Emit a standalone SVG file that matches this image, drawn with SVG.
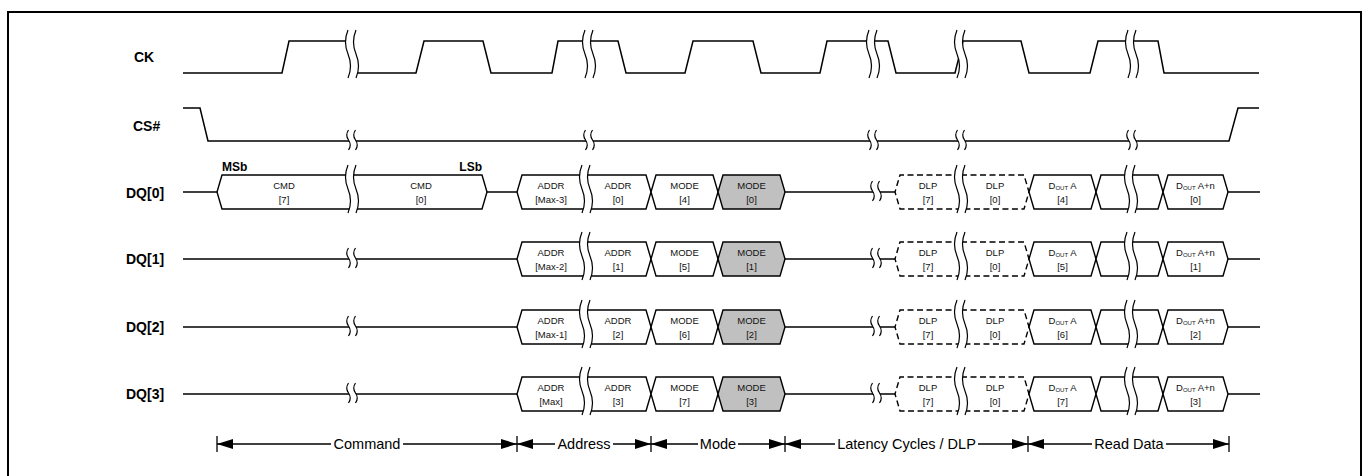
<svg xmlns="http://www.w3.org/2000/svg" width="1369" height="476" viewBox="0 0 1369 476">
<style>
.sig{fill:none;stroke:#000;stroke-width:1.5}
.box{fill:#fff;stroke:#000;stroke-width:1.4}
.grey{fill:#c0c0c0}
.dash{stroke-dasharray:6 3.5}
.lbl{font-family:"Liberation Sans",Arial,sans-serif;font-weight:bold;font-size:14px;fill:#000}
.bit{font-family:"Liberation Sans",Arial,sans-serif;font-weight:bold;font-size:12px;fill:#000}
.t{font-family:"Liberation Sans",Arial,sans-serif;font-size:9.5px;fill:#111;text-anchor:middle}
.sub{font-size:6px}
.ph{font-family:"Liberation Sans",Arial,sans-serif;font-size:14.5px;text-anchor:middle;fill:#000}
.dim{stroke:#000;stroke-width:1.3;fill:none}
.tick{stroke:#000;stroke-width:1.3}
</style>
<defs>
<marker id="ah" markerUnits="userSpaceOnUse" markerWidth="16" markerHeight="10" refX="16" refY="5" orient="auto-start-reverse"><path d="M0,0 L16,5 L0,10 Z" fill="#000"/></marker>
<g id="bT"><path d="M-4,-27 Q-9,-15 -4,-3 Q1,9 -4,21 L4,21 Q9,9 4,-3 Q-1,-15 4,-27 Z" fill="#fff"/><path d="M-4,-27 Q-9,-15 -4,-3 Q1,9 -4,21 M4,-27 Q-1,-15 4,-3 Q9,9 4,21" fill="none" stroke="#000" stroke-width="1.2"/></g>
<g id="bS"><path d="M-3.5,-11 Q-7,-6 -3.5,-1 Q0,4 -3.5,9 L3.5,9 Q7,4 3.5,-1 Q0,-6 3.5,-11 Z" fill="#fff"/><path d="M-3.5,-11 Q-7,-6 -3.5,-1 Q0,4 -3.5,9 M3.5,-11 Q0,-6 3.5,-1 Q7,4 3.5,9" fill="none" stroke="#000" stroke-width="1.2"/></g>
</defs>
<rect x="0" y="0" width="1369" height="476" fill="#fff"/>
<rect x="8" y="12" width="1353" height="470" fill="none" stroke="#000" stroke-width="2"/>

<g id="labels">
<text class="lbl" x="134" y="62">CK</text>
<text class="lbl" x="133" y="131">CS#</text>
<text class="lbl" x="126" y="198">DQ[0]</text>
<text class="lbl" x="126" y="264">DQ[1]</text>
<text class="lbl" x="126" y="332">DQ[2]</text>
<text class="lbl" x="126" y="399">DQ[3]</text>
<text class="bit" x="222" y="171">MSb</text>
<text class="bit" x="482" y="171" text-anchor="end">LSb</text>
</g>

<g id="sig-CK">
<path class="sig" d="M183,73 H282 L289,41 H352 L353,73 H416 L424,41 H483 L491,73 H552 L558,41 H618 L626,73 H685 L693,41 H753 L761,73 H820 L827,41 H888 L896,73 H955 L963,41 H1021 L1029,73 H1090 L1098,41 H1158 L1164,73 H1259"/>
<use href="#bT" x="352" y="57"/><use href="#bT" x="589" y="57"/><use href="#bT" x="873" y="57"/><use href="#bT" x="961" y="57"/><use href="#bT" x="1132" y="57"/>
</g>

<g id="sig-CS">
<path class="sig" d="M183,108 H200 L208,141 H1229 L1238,108 H1259"/>
<use href="#bS" x="352" y="141"/><use href="#bS" x="589" y="141"/><use href="#bS" x="873" y="141"/><use href="#bS" x="961" y="141"/><use href="#bS" x="1132" y="141"/>
</g>

<g id="sig-DQ0">
<path class="sig" d="M183,192 H1260"/>
<g id="dq0-cmd7"><path class="box" d="M352,175 H222 L217,192 L222,209 H352"/><text class="t" x="284" y="189">CMD</text><text class="t" x="284" y="203">[7]</text></g>
<g id="dq0-cmd0"><path class="box" d="M352,175 H482 L487,192 L482,209 H352"/><text class="t" x="421" y="189">CMD</text><text class="t" x="421" y="203">[0]</text></g>
<use href="#bT" x="352" y="192"/>
<g id="dq0-a1"><path class="box" d="M586,175 H522 L517,192 L522,209 H586"/><text class="t" x="551" y="189">ADDR</text><text class="t" x="551" y="203">[Max-3]</text></g>
<g id="dq0-a2"><path class="box" d="M586,175 H646 L651,192 L646,209 H586"/><text class="t" x="618" y="189">ADDR</text><text class="t" x="618" y="203">[0]</text></g>
<use href="#bT" x="586" y="192"/>
<g id="dq0-m1"><path class="box" d="M651,192 L656,175 H713 L718,192 L713,209 H656 Z"/><text class="t" x="684.5" y="189">MODE</text><text class="t" x="684.5" y="203">[4]</text></g>
<g id="dq0-m2"><path class="box grey" d="M718,192 L723,175 H780 L785,192 L780,209 H723 Z"/><text class="t" x="751.5" y="189">MODE</text><text class="t" x="751.5" y="203">[0]</text></g>
<use href="#bS" x="876" y="192"/>
<g id="dq0-d7"><path class="box dash" d="M961,175 H900 L895,192 L900,209 H961"/><text class="t" x="928" y="189">DLP</text><text class="t" x="928" y="203">[7]</text></g>
<g id="dq0-d0"><path class="box dash" d="M961,175 H1024 L1029,192 L1024,209 H961"/><text class="t" x="995" y="189">DLP</text><text class="t" x="995" y="203">[0]</text></g>
<use href="#bT" x="961" y="192"/>
<g id="dq0-oa"><path class="box" d="M1029,192 L1034,175 H1091 L1096,192 L1091,209 H1034 Z"/><text class="t" x="1062.5" y="189">D<tspan class="sub" dy="1">OUT</tspan><tspan dy="-1"> A</tspan></text><text class="t" x="1062.5" y="203">[4]</text></g>
<g id="dq0-gap"><path class="box" d="M1096,192 L1101,175 H1158 L1163,192 L1158,209 H1101 Z"/></g>
<use href="#bT" x="1131" y="192"/>
<g id="dq0-oan"><path class="box" d="M1163,192 L1168,175 H1223 L1228,192 L1223,209 H1168 Z"/><text class="t" x="1195.5" y="189">D<tspan class="sub" dy="1">OUT</tspan><tspan dy="-1"> A+n</tspan></text><text class="t" x="1195.5" y="203">[0]</text></g>
</g>

<g id="sig-DQ1">
<path class="sig" d="M183,259 H1260"/>
<use href="#bS" x="352" y="259"/>
<g id="dq1-a1"><path class="box" d="M586,242 H522 L517,259 L522,276 H586"/><text class="t" x="551" y="256">ADDR</text><text class="t" x="551" y="270">[Max-2]</text></g>
<g id="dq1-a2"><path class="box" d="M586,242 H646 L651,259 L646,276 H586"/><text class="t" x="618" y="256">ADDR</text><text class="t" x="618" y="270">[1]</text></g>
<use href="#bT" x="586" y="259"/>
<g id="dq1-m1"><path class="box" d="M651,259 L656,242 H713 L718,259 L713,276 H656 Z"/><text class="t" x="684.5" y="256">MODE</text><text class="t" x="684.5" y="270">[5]</text></g>
<g id="dq1-m2"><path class="box grey" d="M718,259 L723,242 H780 L785,259 L780,276 H723 Z"/><text class="t" x="751.5" y="256">MODE</text><text class="t" x="751.5" y="270">[1]</text></g>
<use href="#bS" x="876" y="259"/>
<g id="dq1-d7"><path class="box dash" d="M961,242 H900 L895,259 L900,276 H961"/><text class="t" x="928" y="256">DLP</text><text class="t" x="928" y="270">[7]</text></g>
<g id="dq1-d0"><path class="box dash" d="M961,242 H1024 L1029,259 L1024,276 H961"/><text class="t" x="995" y="256">DLP</text><text class="t" x="995" y="270">[0]</text></g>
<use href="#bT" x="961" y="259"/>
<g id="dq1-oa"><path class="box" d="M1029,259 L1034,242 H1091 L1096,259 L1091,276 H1034 Z"/><text class="t" x="1062.5" y="256">D<tspan class="sub" dy="1">OUT</tspan><tspan dy="-1"> A</tspan></text><text class="t" x="1062.5" y="270">[5]</text></g>
<g id="dq1-gap"><path class="box" d="M1096,259 L1101,242 H1158 L1163,259 L1158,276 H1101 Z"/></g>
<use href="#bT" x="1131" y="259"/>
<g id="dq1-oan"><path class="box" d="M1163,259 L1168,242 H1223 L1228,259 L1223,276 H1168 Z"/><text class="t" x="1195.5" y="256">D<tspan class="sub" dy="1">OUT</tspan><tspan dy="-1"> A+n</tspan></text><text class="t" x="1195.5" y="270">[1]</text></g>
</g>

<g id="sig-DQ2">
<path class="sig" d="M183,327 H1260"/>
<use href="#bS" x="352" y="327"/>
<g id="dq2-a1"><path class="box" d="M586,310 H522 L517,327 L522,344 H586"/><text class="t" x="551" y="324">ADDR</text><text class="t" x="551" y="338">[Max-1]</text></g>
<g id="dq2-a2"><path class="box" d="M586,310 H646 L651,327 L646,344 H586"/><text class="t" x="618" y="324">ADDR</text><text class="t" x="618" y="338">[2]</text></g>
<use href="#bT" x="586" y="327"/>
<g id="dq2-m1"><path class="box" d="M651,327 L656,310 H713 L718,327 L713,344 H656 Z"/><text class="t" x="684.5" y="324">MODE</text><text class="t" x="684.5" y="338">[6]</text></g>
<g id="dq2-m2"><path class="box grey" d="M718,327 L723,310 H780 L785,327 L780,344 H723 Z"/><text class="t" x="751.5" y="324">MODE</text><text class="t" x="751.5" y="338">[2]</text></g>
<use href="#bS" x="876" y="327"/>
<g id="dq2-d7"><path class="box dash" d="M961,310 H900 L895,327 L900,344 H961"/><text class="t" x="928" y="324">DLP</text><text class="t" x="928" y="338">[7]</text></g>
<g id="dq2-d0"><path class="box dash" d="M961,310 H1024 L1029,327 L1024,344 H961"/><text class="t" x="995" y="324">DLP</text><text class="t" x="995" y="338">[0]</text></g>
<use href="#bT" x="961" y="327"/>
<g id="dq2-oa"><path class="box" d="M1029,327 L1034,310 H1091 L1096,327 L1091,344 H1034 Z"/><text class="t" x="1062.5" y="324">D<tspan class="sub" dy="1">OUT</tspan><tspan dy="-1"> A</tspan></text><text class="t" x="1062.5" y="338">[6]</text></g>
<g id="dq2-gap"><path class="box" d="M1096,327 L1101,310 H1158 L1163,327 L1158,344 H1101 Z"/></g>
<use href="#bT" x="1131" y="327"/>
<g id="dq2-oan"><path class="box" d="M1163,327 L1168,310 H1223 L1228,327 L1223,344 H1168 Z"/><text class="t" x="1195.5" y="324">D<tspan class="sub" dy="1">OUT</tspan><tspan dy="-1"> A+n</tspan></text><text class="t" x="1195.5" y="338">[2]</text></g>
</g>

<g id="sig-DQ3">
<path class="sig" d="M183,394 H1260"/>
<use href="#bS" x="352" y="394"/>
<g id="dq3-a1"><path class="box" d="M586,377 H522 L517,394 L522,411 H586"/><text class="t" x="551" y="391">ADDR</text><text class="t" x="551" y="405">[Max]</text></g>
<g id="dq3-a2"><path class="box" d="M586,377 H646 L651,394 L646,411 H586"/><text class="t" x="618" y="391">ADDR</text><text class="t" x="618" y="405">[3]</text></g>
<use href="#bT" x="586" y="394"/>
<g id="dq3-m1"><path class="box" d="M651,394 L656,377 H713 L718,394 L713,411 H656 Z"/><text class="t" x="684.5" y="391">MODE</text><text class="t" x="684.5" y="405">[7]</text></g>
<g id="dq3-m2"><path class="box grey" d="M718,394 L723,377 H780 L785,394 L780,411 H723 Z"/><text class="t" x="751.5" y="391">MODE</text><text class="t" x="751.5" y="405">[3]</text></g>
<use href="#bS" x="876" y="394"/>
<g id="dq3-d7"><path class="box dash" d="M961,377 H900 L895,394 L900,411 H961"/><text class="t" x="928" y="391">DLP</text><text class="t" x="928" y="405">[7]</text></g>
<g id="dq3-d0"><path class="box dash" d="M961,377 H1024 L1029,394 L1024,411 H961"/><text class="t" x="995" y="391">DLP</text><text class="t" x="995" y="405">[0]</text></g>
<use href="#bT" x="961" y="394"/>
<g id="dq3-oa"><path class="box" d="M1029,394 L1034,377 H1091 L1096,394 L1091,411 H1034 Z"/><text class="t" x="1062.5" y="391">D<tspan class="sub" dy="1">OUT</tspan><tspan dy="-1"> A</tspan></text><text class="t" x="1062.5" y="405">[7]</text></g>
<g id="dq3-gap"><path class="box" d="M1096,394 L1101,377 H1158 L1163,394 L1158,411 H1101 Z"/></g>
<use href="#bT" x="1131" y="394"/>
<g id="dq3-oan"><path class="box" d="M1163,394 L1168,377 H1223 L1228,394 L1223,411 H1168 Z"/><text class="t" x="1195.5" y="391">D<tspan class="sub" dy="1">OUT</tspan><tspan dy="-1"> A+n</tspan></text><text class="t" x="1195.5" y="405">[3]</text></g>
</g>

<g id="connectors">
<line class="tick" x1="217" y1="436" x2="217" y2="452"/>
<line class="tick" x1="517" y1="436" x2="517" y2="452"/>
<line class="tick" x1="651" y1="436" x2="651" y2="452"/>
<line class="tick" x1="785" y1="436" x2="785" y2="452"/>
<line class="tick" x1="1028" y1="436" x2="1028" y2="452"/>
<line class="tick" x1="1229" y1="436" x2="1229" y2="452"/>
<line class="dim" x1="217" y1="444" x2="331" y2="444" marker-start="url(#ah)"/>
<line class="dim" x1="403" y1="444" x2="517" y2="444" marker-end="url(#ah)"/>
<line class="dim" x1="517" y1="444" x2="555" y2="444" marker-start="url(#ah)"/>
<line class="dim" x1="613" y1="444" x2="651" y2="444" marker-end="url(#ah)"/>
<line class="dim" x1="651" y1="444" x2="698" y2="444" marker-start="url(#ah)"/>
<line class="dim" x1="738" y1="444" x2="785" y2="444" marker-end="url(#ah)"/>
<line class="dim" x1="785" y1="444" x2="835" y2="444" marker-start="url(#ah)"/>
<line class="dim" x1="978" y1="444" x2="1028" y2="444" marker-end="url(#ah)"/>
<line class="dim" x1="1028" y1="444" x2="1092" y2="444" marker-start="url(#ah)"/>
<line class="dim" x1="1166" y1="444" x2="1229" y2="444" marker-end="url(#ah)"/>
<text class="ph" x="367" y="449">Command</text>
<text class="ph" x="584" y="449">Address</text>
<text class="ph" x="718" y="449">Mode</text>
<text class="ph" x="906.5" y="449">Latency Cycles / DLP</text>
<text class="ph" x="1129" y="449">Read Data</text>
</g>
</svg>
